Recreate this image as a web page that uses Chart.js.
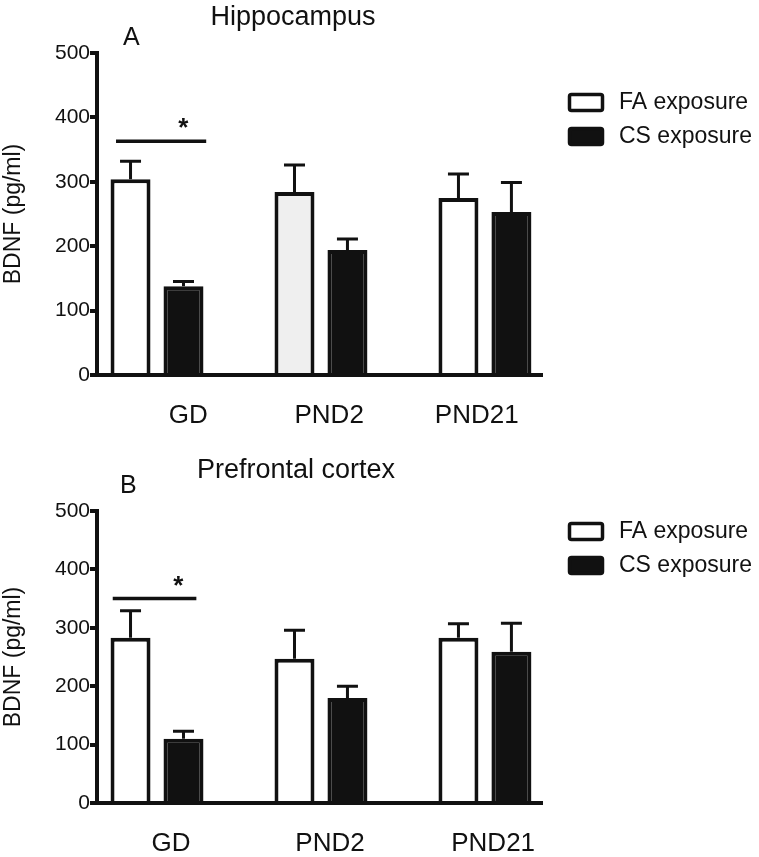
<!DOCTYPE html>
<html>
<head>
<meta charset="utf-8">
<script src="https://cdn.jsdelivr.net/npm/chart.js@4.4.0/dist/chart.umd.min.js"></script>
<style>
html, body { margin: 0; padding: 0; background: #fff; }
#top { position: absolute; left: 0; top: 0; width: 759px; height: 430px; }
#bottom { position: absolute; left: 0; top: 430px; width: 759px; height: 427px; }
</style>
</head>
<body>
<div id="top"><canvas id="hippo"></canvas></div>
<div id="bottom"><canvas id="pfc"></canvas></div>
<script>
var categories = ['GD', 'PND2', 'PND21']
var seriesNames = ['FA exposure', 'CS exposure']
var yTicks = [0, 100, 200, 300, 400, 500]

// A: hippocampus (mean, SEM)
var hippoFA = [304, 284, 275]
var hippoFAsem = [28, 42, 37]
var hippoCS = [138, 194, 253]
var hippoCSsem = [7, 17, 46]

// B: prefrontal cortex (mean, SEM)
var pfcFA = [283, 247, 283]
var pfcFAsem = [46, 49, 24]
var pfcCS = [110, 180, 259]
var pfcCSsem = [13, 20, 49]

var FONT = "'Liberation Sans', Arial, sans-serif"
var INK = '#111'
Chart.defaults.font.family = FONT
Chart.defaults.color = INK

var extras = {
    id: 'extras',
    afterDatasetsDraw: function(chart, args, o) {
        var ctx = chart.ctx
        var xs = chart.scales.x, ys = chart.scales.y
        ctx.save()
        // error bars (mean + SEM)
        ctx.strokeStyle = INK
        ctx.lineWidth = 3
        chart.data.datasets.forEach(function(ds, i) {
            chart.getDatasetMeta(i).data.forEach(function(bar, j) {
                var top = ys.getPixelForValue(ds.data[j].y + ds.sem[j])
                ctx.beginPath()
                ctx.moveTo(bar.x, bar.y)
                ctx.lineTo(bar.x, top)
                ctx.moveTo(bar.x - 10.5, top)
                ctx.lineTo(bar.x + 10.5, top)
                ctx.stroke()
            })
        })
        // significance line + star
        var sy = ys.getPixelForValue(o.sig.y)
        ctx.lineWidth = 3.5
        ctx.beginPath()
        ctx.moveTo(xs.getPixelForValue(o.sig.from), sy)
        ctx.lineTo(xs.getPixelForValue(o.sig.to), sy)
        ctx.stroke()
        ctx.fillStyle = INK
        ctx.font = 'bold 26px ' + FONT
        ctx.textAlign = 'center'
        ctx.textBaseline = 'alphabetic'
        ctx.fillText('*', xs.getPixelForValue(o.sig.star), sy - 5)
        ctx.restore()
    },
    afterDraw: function(chart, args, o) {
        var ctx = chart.ctx
        ctx.save()
        ctx.fillStyle = INK
        ctx.textBaseline = 'alphabetic'
        ctx.font = '27px ' + FONT
        ctx.textAlign = 'center'
        ctx.fillText(o.title, o.titleX, o.titleY)
        ctx.font = '25px ' + FONT
        ctx.textAlign = 'left'
        ctx.fillText(o.letter, o.letterX, o.letterY)
        // legend
        ctx.font = '23px ' + FONT
        ctx.textBaseline = 'middle'
        chart.data.datasets.forEach(function(ds, i) {
            var y = o.legendTop + i * 34
            ctx.beginPath()
            ctx.roundRect(569.5, y + 1.5, 33, 16, 2)
            ctx.fillStyle = ds.legendFill
            ctx.fill()
            ctx.lineWidth = 3.5
            ctx.strokeStyle = INK
            ctx.stroke()
            ctx.fillStyle = INK
            ctx.fillText(ds.label, 619, y + 10)
        })
        ctx.restore()
    }
}

function panel(id, fa, faSem, cs, csSem, faFill, o) {
    var xMin = -0.366, xMax = 2.348
    return new Chart(document.getElementById(id), {
        type: 'bar',
        data: {
            datasets: [
                {
                    label: seriesNames[0],
                    data: fa.map(function(v, i) { return { x: i, y: v } }),
                    sem: faSem,
                    backgroundColor: faFill,
                    legendFill: '#fff',
                    borderColor: INK,
                    borderWidth: 4
                }, {
                    label: seriesNames[1],
                    data: cs.map(function(v, i) { return { x: i, y: v } }),
                    sem: csSem,
                    backgroundColor: INK,
                    legendFill: INK,
                    borderColor: INK,
                    borderWidth: 4
                }
            ]
        },
        options: {
            responsive: true,
            maintainAspectRatio: false,
            animation: false,
            categoryPercentage: 0.646,
            barPercentage: 0.755,
            layout: { padding: { top: o.padTop, right: 217, left: 0, bottom: 0 } },
            plugins: { legend: { display: false }, tooltip: { enabled: false }, extras: o },
            scales: {
                x: {
                    type: 'linear', min: xMin, max: xMax, offset: false, position: 'bottom', z: 1,
                    grid: { display: false, offset: false },
                    border: { display: true, color: INK, width: 4 },
                    ticks: { display: false },
                    afterBuildTicks: function(s) { s.ticks = categories.map(function(c, i) { return { value: i } }) },
                    afterFit: function(s) { s.height = 0 }
                },
                xl: {
                    type: 'linear', min: xMin, max: xMax, offset: false, position: 'bottom', weight: 1,
                    grid: { display: false, offset: false },
                    border: { display: false },
                    ticks: {
                        font: { size: 26 }, color: INK, padding: 17, autoSkip: false, maxRotation: 0,
                        callback: function(v, i) { return categories[i] }
                    },
                    afterBuildTicks: function(s) { s.ticks = categories.map(function(c, i) { return { value: i + o.labelNudge[i] } }) },
                    afterFit: function(s) { s.height = o.xlHeight }
                },
                y: {
                    min: 0, max: 500,
                    afterBuildTicks: function(s) { s.ticks = yTicks.map(function(v) { return { value: v } }) },
                    ticks: { font: { size: 21 }, color: INK, padding: 0 },
                    grid: { drawOnChartArea: false, drawTicks: true, tickLength: 7, lineWidth: 4, color: INK },
                    border: { display: true, color: INK, width: 4 },
                    title: { display: true, text: 'BDNF (pg/ml)', font: { size: 23 }, color: INK, padding: 0 },
                    afterFit: function(s) { s.width = 97 }
                }
            }
        },
        plugins: [extras]
    })
}

panel('hippo', hippoFA, hippoFAsem, hippoCS, hippoCSsem, ['#fff', '#efefef', '#fff'], {
    padTop: 53, xlHeight: 55, labelNudge: [0.19, 0.05, -0.05],
    title: 'Hippocampus', titleX: 293, titleY: 25, letter: 'A', letterX: 123, letterY: 45,
    sig: { from: -0.25, to: 0.30, y: 363, star: 0.16 }, legendTop: 93
})

panel('pfc', pfcFA, pfcFAsem, pfcCS, pfcCSsem, '#fff', {
    padTop: 81, xlHeight: 54, labelNudge: [0.085, 0.055, 0.05],
    title: 'Prefrontal cortex', titleX: 296, titleY: 48, letter: 'B', letterX: 120, letterY: 63,
    sig: { from: -0.27, to: 0.24, y: 350, star: 0.13 }, legendTop: 92
})
</script>
</body>
</html>
